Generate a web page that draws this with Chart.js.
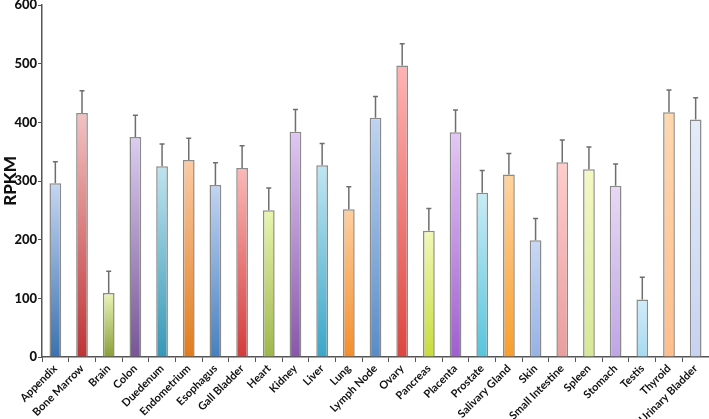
<!DOCTYPE html>
<html>
<head>
<meta charset="utf-8">
<script src="https://cdn.jsdelivr.net/npm/chart.js@4.4.1/dist/chart.umd.min.js"></script>
<style>
  html, body { margin: 0; padding: 0; background: #fff; }
  #wrap { width: 709px; height: 419px; position: relative; }
</style>
</head>
<body>
<div id="wrap"><canvas id="myChart"></canvas></div>
<script>
// tissues on the x axis
const tissues = ["Appendix", "Bone Marrow", "Brain", "Colon", "Duedenum", "Endometrium",
    "Esophagus", "Gall Bladder", "Heart", "Kidney", "Liver", "Lung", "Lymph Node", "Ovary",
    "Pancreas", "Placenta", "Prostate", "Salivary Gland", "Skin", "Small Intestine",
    "Spleen", "Stomach", "Testis", "Thyroid", "Urinary Bladder"];

// mean RPKM per tissue
const rpkm = [296, 416, 109, 375, 325, 336, 293, 322, 250, 384, 327, 252, 408, 497,
    215, 383, 280, 311, 199, 332, 320, 292, 98, 417, 405];

// upper error (SD)
const rpkmErr = [37, 38, 37, 37, 38, 37, 38, 38, 38, 38, 37, 38, 36, 37,
    38, 38, 38, 36, 37, 38, 38, 37, 38, 38, 37];

const yTicks = [0, 100, 200, 300, 400, 500, 600];

// gradient colours, top of bar -> bottom of bar
const topColors = ["#c5d6f2", "#f2c2c2", "#eaf5b8", "#dccdf0", "#bfe3ef", "#fbcba5",
    "#c2d4f2", "#fcb8b8", "#e8f5b0", "#e0c8f2", "#c0e6f2", "#fdcfa0", "#bfd4f0", "#ffb4b4",
    "#f0f8b8", "#e4c8f4", "#c8ecf6", "#ffd4a0", "#c8d8f4", "#ffcccc", "#f4f8c4", "#e8d8f4",
    "#d0ecf8", "#ffd8b0", "#e4ecfa"];
const bottomColors = ["#3a72b0", "#be3436", "#8a9e3a", "#785596", "#3698b6", "#e07c1e",
    "#4680c0", "#d23c3c", "#9eb64a", "#8856aa", "#3ca6c8", "#f48e2c", "#588cc8", "#dc4640",
    "#c8dc3c", "#a05ed0", "#58c4dc", "#f89e2c", "#96b2e4", "#e89e9e", "#d6e896", "#bea6e4",
    "#a6daf0", "#ffbe8c", "#c6d2f0"];

const errorBars = {
    id: 'errorBars',
    afterDatasetsDraw(chart) {
        const ctx = chart.ctx;
        const y = chart.scales.y;
        const meta = chart.getDatasetMeta(0);
        ctx.save();
        ctx.strokeStyle = '#6e6e6e';
        ctx.lineWidth = 1.5;
        meta.data.forEach((bar, i) => {
            const top = y.getPixelForValue(rpkm[i] + rpkmErr[i]);
            ctx.beginPath();
            ctx.moveTo(bar.x, bar.y);
            ctx.lineTo(bar.x, top);
            ctx.moveTo(bar.x - 2.5, top);
            ctx.lineTo(bar.x + 2.5, top);
            ctx.stroke();
        });
        ctx.restore();
    }
};

new Chart("myChart", {
    type: "bar",
    data: {
        labels: tissues,
        datasets: [{
            data: rpkm,
            backgroundColor: function (context) {
                const chart = context.chart;
                const i = context.dataIndex;
                if (!chart.chartArea || i === undefined) {
                    return topColors[i] || '#ccc';
                }
                const y = chart.scales.y;
                const y1 = y.getPixelForValue(rpkm[i]);
                const y0 = y.getPixelForValue(0);
                const g = chart.ctx.createLinearGradient(0, y1, 0, y0);
                g.addColorStop(0, topColors[i]);
                g.addColorStop(1, bottomColors[i]);
                return g;
            },
            borderColor: '#8a8a8a',
            borderWidth: 1.5,
            borderSkipped: 'bottom',
            barPercentage: 0.44,
            categoryPercentage: 1
        }]
    },
    options: {
        responsive: true,
        maintainAspectRatio: false,
        animation: false,
        layout: { padding: 0 },
        plugins: {
            legend: { display: false },
            tooltip: { enabled: false }
        },
        scales: {
            x: {
                grid: {
                    display: true,
                    drawOnChartArea: false,
                    drawTicks: true,
                    tickLength: 5,
                    color: '#555'
                },
                border: { display: true, color: '#555', width: 1.5 },
                ticks: {
                    minRotation: 45,
                    maxRotation: 45,
                    autoSkip: false,
                    padding: 0,
                    color: '#111',
                    font: { family: 'Lato', weight: 'bold', size: 11 }
                },
                afterFit: function (scale) { scale.height = 62; }
            },
            y: {
                min: 0,
                max: 600,
                afterBuildTicks: function (scale) {
                    scale.ticks = yTicks.map(v => ({ value: v }));
                },
                grid: {
                    display: true,
                    drawOnChartArea: false,
                    drawTicks: true,
                    tickLength: 4,
                    color: '#555'
                },
                border: { display: true, color: '#555', width: 1.5 },
                ticks: {
                    padding: 1,
                    color: '#111',
                    font: { family: 'Lato', weight: '900', size: 13 }
                },
                title: {
                    display: true,
                    text: 'RPKM',
                    color: '#111',
                    padding: 0,
                    font: { family: 'Lato', weight: '900', size: 17 }
                },
                afterFit: function (scale) {
                    scale.width = 42;
                    scale.paddingTop = 5;
                }
            }
        }
    },
    plugins: [errorBars]
});
</script>
</body>
</html>
